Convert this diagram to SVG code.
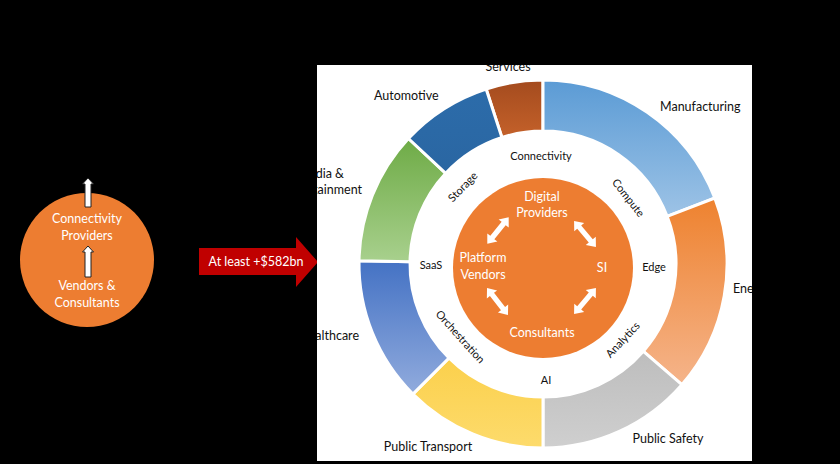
<svg xmlns="http://www.w3.org/2000/svg" width="840" height="464" viewBox="0 0 840 464">
<style>
text{font-family:Lato,"Liberation Sans",Arial,sans-serif}
.lbl{font-size:12.5px;fill:#111}
.sm{font-size:11px;fill:#111}
.wt{font-size:12.5px;fill:#ffffff}
.seg{stroke:#ffffff;stroke-width:3}
.up{fill:#ffffff;stroke:#222;stroke-width:1}
.dbl{fill:#ffffff}
</style>
<defs>
<linearGradient id="gSer" x1="0" y1="0" x2="0" y2="1"><stop offset="0" stop-color="#A44B1E"/><stop offset="1" stop-color="#C4612A"/></linearGradient>
<linearGradient id="gMan" x1="0" y1="0" x2="0" y2="1"><stop offset="0" stop-color="#5B9BD5"/><stop offset="1" stop-color="#9DC3E6"/></linearGradient>
<linearGradient id="gEne" x1="0" y1="0" x2="0" y2="1"><stop offset="0" stop-color="#EE822F"/><stop offset="1" stop-color="#F5B48A"/></linearGradient>
<linearGradient id="gSaf" x1="0" y1="0" x2="0" y2="1"><stop offset="0" stop-color="#BDBDBD"/><stop offset="1" stop-color="#CFCFCF"/></linearGradient>
<linearGradient id="gTra" x1="0" y1="0" x2="0" y2="1"><stop offset="0" stop-color="#FBD04C"/><stop offset="1" stop-color="#FDDB6C"/></linearGradient>
<linearGradient id="gHea" x1="0" y1="0" x2="0" y2="1"><stop offset="0" stop-color="#4472C4"/><stop offset="1" stop-color="#91ABDD"/></linearGradient>
<linearGradient id="gMed" x1="0" y1="0" x2="0" y2="1"><stop offset="0" stop-color="#6EAB46"/><stop offset="1" stop-color="#A8D08D"/></linearGradient>
<linearGradient id="gAut" x1="0" y1="0" x2="0" y2="1"><stop offset="0" stop-color="#2C6CAA"/><stop offset="1" stop-color="#2A66A2"/></linearGradient>
<clipPath id="panelClip"><rect x="317" y="65" width="435" height="396"/></clipPath>
<polygon id="dblArrow" points="-17,0 -9,-6.5 -9,-2.6 9,-2.6 9,-6.5 17,0 9,6.5 9,2.6 -9,2.6 -9,6.5"/>
</defs>

<rect x="0" y="0" width="840" height="464" fill="#000000"/>

<g id="left-circle">
<circle cx="87" cy="260" r="67" fill="#ED7D31"/>
<text class="wt" x="87" y="223" text-anchor="middle">Connectivity</text>
<text class="wt" x="87" y="240" text-anchor="middle">Providers</text>
<text class="wt" x="87" y="290" text-anchor="middle">Vendors  &amp;</text>
<text class="wt" x="87" y="307" text-anchor="middle">Consultants</text>
</g>

<g id="value-arrow">
<polygon points="199,248 296,248 296,237 318,262 296,287 296,275 199,275" fill="#C00000"/>
<text class="wt" x="256" y="266" text-anchor="middle">At least +$582bn</text>
</g>

<g id="panel">
<rect x="317" y="65" width="435" height="396" fill="#ffffff"/>
</g>

<g id="ring">
<path id="seg-services" class="seg" fill="url(#gSer)" d="M486.14,89 A184,184 0 0 1 543,80 L543,131 A133,133 0 0 0 501.9,137.51 Z"/>
<path id="seg-manufacturing" class="seg" fill="url(#gMan)" d="M543,80 A184,184 0 0 1 714.78,198.05 L667.17,216.33 A133,133 0 0 0 543,131 Z"/>
<path id="seg-energy" class="seg" fill="url(#gEne)" d="M714.78,198.05 A184,184 0 0 1 681.86,384.72 L643.38,351.26 A133,133 0 0 0 667.17,216.33 Z"/>
<path id="seg-public-safety" class="seg" fill="url(#gSaf)" d="M681.86,384.72 A184,184 0 0 1 543,448 L543,397 A133,133 0 0 0 643.38,351.26 Z"/>
<path id="seg-public-transport" class="seg" fill="url(#gTra)" d="M543,448 A184,184 0 0 1 412.89,394.11 L448.96,358.04 A133,133 0 0 0 543,397 Z"/>
<path id="seg-healthcare" class="seg" fill="url(#gHea)" d="M412.89,394.11 A184,184 0 0 1 359.03,260.79 L410.02,261.68 A133,133 0 0 0 448.96,358.04 Z"/>
<path id="seg-media" class="seg" fill="url(#gMed)" d="M359.03,260.79 A184,184 0 0 1 408.42,138.51 L445.72,173.29 A133,133 0 0 0 410.02,261.68 Z"/>
<path id="seg-automotive" class="seg" fill="url(#gAut)" d="M408.42,138.51 A184,184 0 0 1 486.14,89 L501.9,137.51 A133,133 0 0 0 445.72,173.29 Z"/>
</g>

<g id="sector-labels" clip-path="url(#panelClip)">
<text class="lbl" x="508" y="71" text-anchor="middle">Services</text>
<text class="lbl" x="660" y="111">Manufacturing</text>
<text class="lbl" x="374" y="100">Automotive</text>
<text class="lbl" x="344" y="178" text-anchor="end">Media &amp;</text>
<text class="lbl" x="362" y="194" text-anchor="end">Entertainment</text>
<text class="lbl" x="733" y="293">Energy</text>
<text class="lbl" x="359" y="340" text-anchor="end">Healthcare</text>
<text class="lbl" x="428" y="451" text-anchor="middle">Public  Transport</text>
<text class="lbl" x="668" y="443" text-anchor="middle">Public  Safety</text>
</g>

<g id="tech-labels">
<text class="sm" x="541" y="160" text-anchor="middle">Connectivity</text>
<text class="sm" transform="translate(463,187) rotate(-46)" x="0" y="3.5" text-anchor="middle">Storage</text>
<text class="sm" transform="translate(628,198) rotate(52)" x="0" y="3.5" text-anchor="middle">Compute</text>
<text class="sm" x="654" y="271" text-anchor="middle">Edge</text>
<text class="sm" x="431" y="269" text-anchor="middle">SaaS</text>
<text class="sm" transform="translate(623,340) rotate(-47)" x="0" y="3.5" text-anchor="middle">Analytics</text>
<text class="sm" transform="translate(460,337) rotate(48)" x="0" y="3.5" text-anchor="middle">Orchestration</text>
<text class="sm" x="546" y="384" text-anchor="middle">AI</text>
</g>

<g id="core">
<circle cx="543" cy="268" r="90" fill="#ED7D31"/>
<text class="wt" x="542" y="201" text-anchor="middle">Digital</text>
<text class="wt" x="542" y="217" text-anchor="middle">Providers</text>
<text class="wt" x="483" y="262" text-anchor="middle">Platform</text>
<text class="wt" x="483" y="279" text-anchor="middle">Vendors</text>
<text class="wt" x="602" y="272" text-anchor="middle">SI</text>
<text class="wt" x="542" y="337" text-anchor="middle">Consultants</text>
</g>

<g id="connectors">
<polygon class="up" points="88,178 93.5,184 91,184 91,207 85,207 85,184 82.5,184"/>
<polygon class="up" points="88,246 93.5,252 91,252 91,277 85,277 85,252 82.5,252"/>
<use href="#dblArrow" class="dbl" transform="translate(498,230.5) rotate(-51)"/>
<use href="#dblArrow" class="dbl" transform="translate(585,234) rotate(50)"/>
<use href="#dblArrow" class="dbl" transform="translate(497.5,301.5) rotate(52)"/>
<use href="#dblArrow" class="dbl" transform="translate(585,301) rotate(-50)"/>
</g>
</svg>
